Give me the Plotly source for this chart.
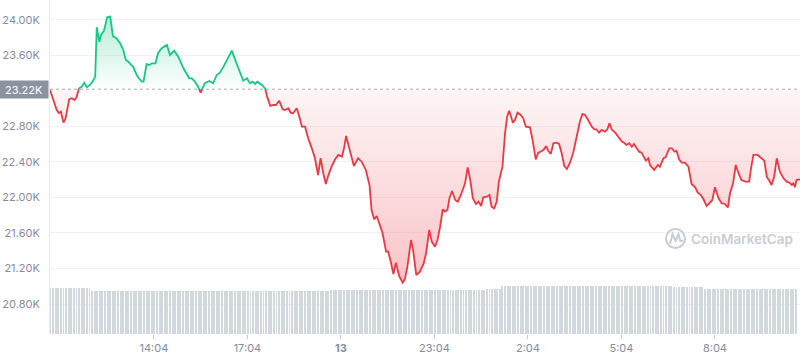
import plotly.graph_objects as go
import pandas as pd

# ---------------- data ----------------
START = "2022-08-12 10:44"
END = "2022-08-13 10:47:45"
BASELINE = 23220

minutes = [0, 6, 13, 17, 21, 26, 30, 37, 42, 47, 51, 56, 61, 66, 71, 77, 82, 87, 90, 95,
           98, 104, 110, 116, 121, 128, 135, 141, 146, 151, 156, 160, 167, 171, 177, 180, 186, 191, 196, 203,
           208, 215, 225, 231, 239, 247, 257, 263, 268, 273, 279, 285, 290, 298, 307, 314, 321, 327, 334, 341,
           350, 359, 366, 372, 379, 385, 390, 395, 399, 408, 414, 418, 424, 430, 435, 441, 448, 452, 459, 463,
           468, 475, 480, 485, 491, 497, 504, 510, 516, 521, 526, 531, 536, 542, 549, 555, 562, 566, 570, 576,
           585, 593, 600, 608, 615, 619, 624, 629, 635, 640, 647, 651, 656, 661, 666, 672, 679, 683, 688, 695,
           699, 705, 712, 719, 724, 730, 735, 741, 746, 751, 756, 760, 765, 769, 774, 780, 785, 791, 799, 804,
           809, 814, 820, 825, 830, 834, 841, 846, 850, 855, 860, 864, 871, 876, 880, 884, 891, 895, 900, 906,
           911, 916, 924, 929, 935, 940, 947, 951, 955, 959, 964, 969, 975, 980, 985, 990, 995, 1001, 1007, 1014,
           1020, 1025, 1030, 1036, 1043, 1048, 1052, 1057, 1062, 1068, 1073, 1077, 1081, 1088, 1094, 1101, 1105, 1110, 1115, 1120,
           1124, 1129, 1134, 1139, 1143, 1147, 1152, 1155, 1163, 1170, 1174, 1181, 1185, 1192, 1197, 1202, 1206, 1211, 1216, 1222,
           1229, 1235, 1242, 1247, 1253, 1258, 1264, 1271, 1275, 1280, 1287, 1293, 1299, 1305, 1309, 1315, 1320, 1326, 1331, 1339,
           1346, 1349, 1354, 1362, 1370, 1375, 1380, 1384, 1389, 1394, 1399, 1405, 1412, 1418, 1423, 1428, 1431, 1434, 1437, 1444]

prices = [23211, 23099, 22986, 22952, 22967, 22843, 22892, 23106, 23118, 23099, 23129, 23230, 23248, 23293, 23242, 23268, 23305, 23361, 23918, 23755,
          23831, 23879, 24030, 24037, 23820, 23794, 23737, 23662, 23549, 23530, 23493, 23474, 23380, 23343, 23305, 23305, 23504, 23493, 23512, 23512,
          23625, 23681, 23718, 23606, 23654, 23586, 23456, 23399, 23343, 23343, 23305, 23248, 23181, 23287, 23313, 23287, 23380, 23406, 23474, 23549,
          23654, 23512, 23399, 23316, 23343, 23287, 23305, 23279, 23305, 23268, 23230, 23136, 23031, 23042, 23042, 23091, 22994, 22986, 23005, 22955,
          22949, 23005, 22910, 22798, 22798, 22667, 22554, 22442, 22253, 22442, 22273, 22152, 22253, 22347, 22430, 22479, 22460, 22554, 22693, 22543,
          22355, 22442, 22403, 22310, 22141, 21859, 21754, 21791, 21679, 21603, 21389, 21389, 21276, 21138, 21265, 21115, 21040, 21078, 21220, 21521,
          21408, 21127, 21164, 21251, 21371, 21634, 21502, 21445, 21521, 21671, 21867, 21840, 21859, 21991, 22073, 21972, 21953, 22028, 22160, 22340,
          22197, 21991, 21927, 21953, 21904, 22002, 22009, 22028, 21896, 21878, 21953, 22178, 22347, 22723, 22910, 22978, 22843, 22873, 22955, 22930,
          22892, 22798, 22791, 22648, 22430, 22505, 22524, 22543, 22580, 22527, 22490, 22611, 22617, 22603, 22498, 22355, 22321, 22392, 22498, 22685,
          22854, 22941, 22930, 22873, 22798, 22768, 22768, 22730, 22761, 22741, 22768, 22836, 22768, 22730, 22678, 22629, 22617, 22592, 22611, 22572,
          22603, 22554, 22516, 22505, 22453, 22415, 22442, 22366, 22310, 22366, 22347, 22442, 22453, 22554, 22554, 22516, 22527, 22430, 22392, 22392,
          22347, 22152, 22115, 22054, 22028, 21980, 21904, 21953, 21972, 22115, 21991, 21935, 21927, 21889, 22047, 22160, 22366, 22265, 22197, 22178,
          22178, 22310, 22479, 22479, 22442, 22415, 22228, 22197, 22141, 22234, 22442, 22291, 22216, 22178, 22167, 22141, 22160, 22115, 22197, 22205]

VOL_START = "2022-08-12 10:45"
VOL_STEP_MIN = 5
volume_bn = [
    27.5, 27.5, 27.5, 27.5, 27.5, 27.5, 27.5, 27.5, 27.5, 27.5, 27.5, 27.5,
    27.5, 27.5, 27.5, 27.5, 25.8, 25.8, 25.8, 25.8, 25.8, 25.8, 25.8, 25.8,
    25.8, 25.8, 25.8, 25.8, 25.8, 25.8, 25.8, 25.8, 25.8, 25.8, 25.8, 25.8,
    25.8, 25.8, 25.8, 25.8, 25.8, 25.8, 25.8, 25.8, 25.8, 25.8, 25.8, 25.8,
    25.8, 25.8, 25.8, 25.8, 25.8, 25.8, 25.8, 25.8, 25.8, 25.8, 25.8, 25.8,
    25.8, 25.8, 25.8, 25.8, 25.8, 25.8, 25.8, 25.8, 25.8, 25.8, 25.8, 25.8,
    25.8, 25.8, 25.8, 25.8, 25.8, 25.8, 25.8, 25.8, 25.8, 25.8, 25.8, 25.8,
    25.9, 25.9, 25.9, 25.9, 25.9, 25.9, 25.9, 25.9, 25.9, 25.9, 25.9, 25.9,
    26.0, 26.0, 26.0, 26.0, 26.0, 26.0, 26.0, 26.0, 26.0, 26.0, 26.0, 26.0,
    26.2, 26.2, 26.2, 26.2, 26.2, 26.2, 26.2, 26.2, 26.2, 26.2, 26.2, 26.2,
    26.3, 26.3, 26.3, 26.3, 26.3, 26.3, 26.3, 26.3, 26.3, 26.3, 26.3, 26.3,
    26.4, 26.4, 26.4, 26.4, 26.4, 26.4, 26.4, 26.4, 26.4, 26.4, 26.4, 26.4,
    26.5, 26.5, 26.5, 26.5, 26.5, 26.5, 26.5, 26.5, 26.5, 26.5, 26.5, 26.5,
    26.6, 26.6, 26.6, 26.6, 26.6, 26.6, 26.6, 26.6, 26.6, 26.6, 26.6, 26.6,
    26.8, 26.8, 26.8, 26.8, 26.8, 26.8, 29.0, 29.0, 29.0, 29.0, 29.0, 29.0,
    29.0, 29.0, 29.0, 29.0, 29.0, 29.0, 29.0, 29.0, 29.0, 29.0, 29.0, 29.0,
    29.0, 29.0, 29.0, 29.0, 29.0, 29.0, 29.0, 29.0, 29.0, 29.0, 29.0, 29.0,
    28.9, 28.9, 28.9, 28.9, 28.9, 28.9, 28.9, 28.9, 28.9, 28.9, 28.9, 28.9,
    28.8, 28.8, 28.8, 28.8, 28.8, 28.8, 28.8, 28.8, 28.8, 28.8, 28.8, 28.8,
    28.6, 28.6, 28.6, 28.6, 28.6, 28.6, 28.6, 28.6, 28.6, 28.6, 28.6, 28.6,
    28.4, 28.4, 28.4, 28.4, 28.4, 28.4, 28.4, 28.4, 28.4, 28.4, 28.4, 28.4,
    27.2, 27.2, 27.2, 27.2, 27.2, 27.2, 27.2, 27.2, 27.2, 27.2, 27.2, 27.2,
    27.0, 27.0, 27.0, 27.0, 27.0, 27.0, 27.0, 27.0, 27.0, 27.0, 27.0, 27.0,
    26.9, 26.9, 26.9, 26.9, 26.9, 26.9, 26.9, 26.9, 26.9, 26.9, 26.9, 26.9,
]

x_tick_times = ["2022-08-12 14:04", "2022-08-12 17:04", "2022-08-12 20:04", "2022-08-12 23:04",
                "2022-08-13 02:04", "2022-08-13 05:04", "2022-08-13 08:04"]
x_tick_labels = ["14:04", "17:04", "<b>13</b>", "23:04", "2:04", "5:04", "8:04"]
y_tick_values = [20800, 21200, 21600, 22000, 22400, 22800, 23600, 24000]
y_tick_labels = ["20.80K", "21.20K", "21.60K", "22.00K", "22.40K", "22.80K", "23.60K", "24.00K"]
baseline_label = "23.22K"

# ---------------- style ----------------
GREEN = "#16c784"
RED = "#ea3943"
GRAY_TXT = "#858ca0"
W, H = 800, 357
ML, MR, MT, MB = 50, 0, 0, 23

# split the price line at the baseline
t0 = pd.Timestamp(START)
ax_m, ay = [], []
for i, (m, p) in enumerate(zip(minutes, prices)):
    if i > 0:
        m0, p0 = minutes[i - 1], prices[i - 1]
        if (p0 - BASELINE) * (p - BASELINE) < 0:
            f = (BASELINE - p0) / (p - p0)
            ax_m.append(m0 + f * (m - m0))
            ay.append(BASELINE)
    ax_m.append(m)
    ay.append(p)
times = [t0 + pd.Timedelta(minutes=m) for m in ax_m]
up_line = [p if p >= BASELINE else None for p in ay]
dn_line = [p if p <= BASELINE else None for p in ay]
up_fill = [max(p, BASELINE) for p in ay]
dn_fill = [min(p, BASELINE) for p in ay]
base_arr = [BASELINE] * len(ay)

vol_times = [pd.Timestamp(VOL_START) + pd.Timedelta(minutes=VOL_STEP_MIN * i) for i in range(len(volume_bn))]

fig = go.Figure()

fig.add_trace(go.Bar(x=vol_times, y=volume_bn, yaxis="y2", marker_color="#d3d7de",
                     marker_line_width=0, width=110000, hoverinfo="skip", showlegend=False))

fig.add_trace(go.Scatter(x=times, y=base_arr, mode="lines", line=dict(width=0),
                         hoverinfo="skip", showlegend=False))
fig.add_trace(go.Scatter(x=times, y=up_fill, mode="lines", line=dict(width=0), fill="tonexty",
                         fillgradient=dict(type="vertical", start=BASELINE, stop=max(prices),
                                           colorscale=[[0, "rgba(22,199,132,0)"], [1, "rgba(22,199,132,0.32)"]]),
                         hoverinfo="skip", showlegend=False))
fig.add_trace(go.Scatter(x=times, y=base_arr, mode="lines", line=dict(width=0),
                         hoverinfo="skip", showlegend=False))
fig.add_trace(go.Scatter(x=times, y=dn_fill, mode="lines", line=dict(width=0), fill="tonexty",
                         fillgradient=dict(type="vertical", start=min(prices), stop=BASELINE,
                                           colorscale=[[0, "rgba(234,57,67,0.30)"], [1, "rgba(234,57,67,0.05)"]]),
                         hoverinfo="skip", showlegend=False))

fig.add_trace(go.Scatter(x=times, y=up_line, mode="lines", line=dict(color=GREEN, width=1.8),
                         connectgaps=False, showlegend=False))
fig.add_trace(go.Scatter(x=times, y=dn_line, mode="lines", line=dict(color=RED, width=1.8),
                         connectgaps=False, showlegend=False))

# dotted baseline
fig.add_shape(type="line", xref="paper", x0=0, x1=1, yref="y", y0=BASELINE, y1=BASELINE,
              line=dict(color="#a9afba", width=1, dash="dot"), layer="below")

# baseline label
fig.add_annotation(xref="paper", x=0, xanchor="right", yref="y", y=BASELINE, yanchor="middle",
                   text=baseline_label, showarrow=False, bgcolor="#8c93a0",
                   font=dict(color="white", size=11, family="Inter"),
                   width=46, height=15, borderpad=1, xshift=-1)

# watermark
def px(xp):
    return (xp - ML) / (W - ML - MR)


def py(yp):
    return (H - MB - yp) / (H - MT - MB)


fig.add_annotation(xref="paper", yref="paper", x=px(742), y=py(239), xanchor="center", yanchor="middle",
                   text="CoinMarketCap", showarrow=False,
                   font=dict(color="#c9cdd5", size=13.5, family="Inter", weight=600))
fig.add_shape(type="circle", xref="paper", yref="paper", x0=px(666), x1=px(685), y0=py(248), y1=py(229),
              line=dict(color="#c9cdd5", width=2))
mpath = "M {} {} L {} {} L {} {} L {} {} L {} {} Q {} {} {} {}".format(
    px(670), py(244), px(672.5), py(234), px(675.5), py(241), px(678.5), py(234), px(680), py(240),
    px(681), py(242), px(683), py(240))
fig.add_shape(type="path", xref="paper", yref="paper", path=mpath, line=dict(color="#c9cdd5", width=2))

fig.update_layout(
    width=W, height=H,
    margin=dict(l=ML, r=MR, t=MT, b=MB),
    paper_bgcolor="white", plot_bgcolor="white",
    font=dict(family="Inter", color=GRAY_TXT, size=11),
    bargap=0,
    xaxis=dict(type="date", range=[START, END], showgrid=False, zeroline=False, showline=False,
               tickvals=x_tick_times, ticktext=x_tick_labels, ticks="outside", ticklen=4,
               tickcolor="#c4c8cf", tickfont=dict(size=11, color=GRAY_TXT)),
    yaxis=dict(range=[20462, 24225], tickvals=y_tick_values, ticktext=y_tick_labels,
               showgrid=True, gridcolor="#f1f2f5", gridwidth=1, zeroline=False,
               showline=True, linecolor="#e6e8ec", linewidth=1, ticks="",
               ticklabelstandoff=7, tickfont=dict(size=11, color=GRAY_TXT)),
    yaxis2=dict(overlaying="y", range=[0, 200], visible=False),
    showlegend=False,
)

fig.write_html("out.html", config={"displayModeBar": False},
               post_script="document.body.style.margin='0';document.body.style.overflow='hidden';")
